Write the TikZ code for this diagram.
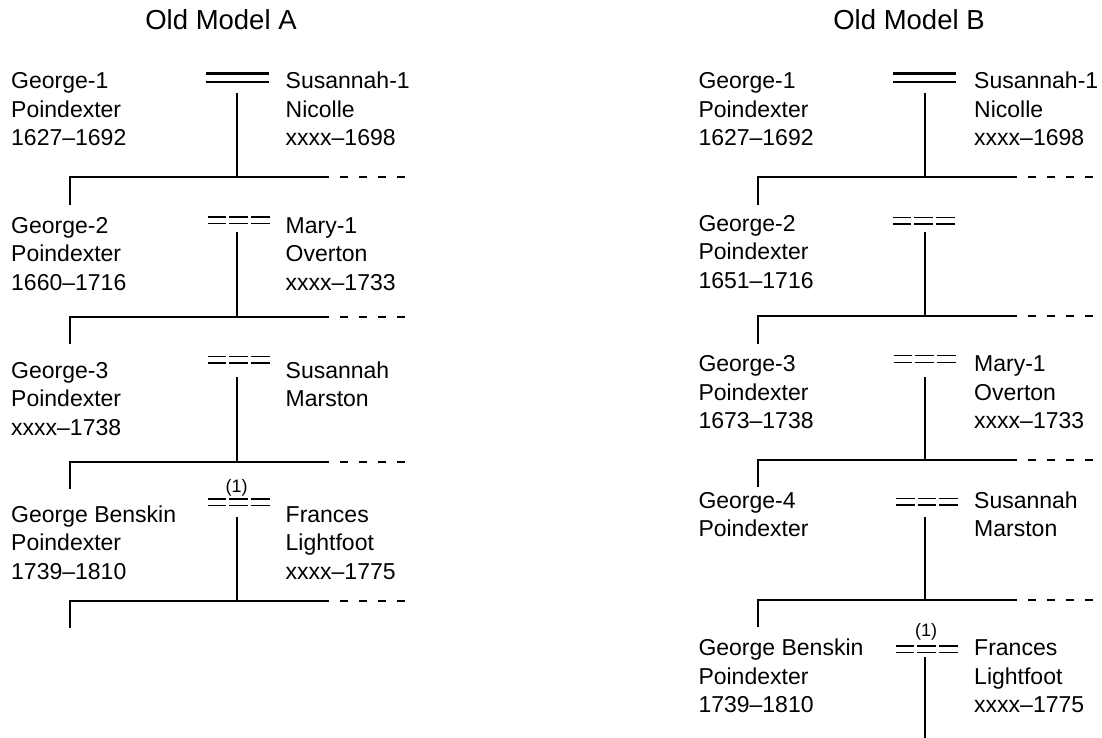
\documentclass[tikz,border=0pt]{standalone}
\usepackage{fontspec}
\setmainfont{Liberation Sans}
\newcommand\plines[1]{\begin{tabular}[t]{@{}l@{}}#1\end{tabular}}
\begin{document}
\begin{tikzpicture}[x=1pt,y=-1pt,
  line/.style={line width=2.4pt},
  dashline/.style={line width=2.4pt, dash pattern=on 8pt off 11pt, dash phase=8pt},
  title/.style={anchor=base, inner sep=0pt, font=\fontsize{27.5}{33}\selectfont},
  person/.style={anchor=base west, inner sep=0pt, font=\fontsize{23}{28.5}\selectfont},
  note/.style={inner sep=0pt, font=\fontsize{18}{21}\selectfont},
  wed/.style={line width=2.2pt},
  weddash/.style={line width=1.3pt},
  tripleeq/.pic={\draw[weddash] (-31,0)--(-12.3,0) (-9.3,0)--(9.3,0) (12.3,0)--(31,0)
                                (-31,6.5)--(-12.3,6.5) (-9.3,6.5)--(9.3,6.5) (12.3,6.5)--(31,6.5);},
  doubleeq/.pic={\draw[wed] (-31.5,0)--(31.5,0) (-31.5,8.5)--(31.5,8.5);}
]
\useasboundingbox (0,0) rectangle (1102,738);

% ---------------- Old Model A ----------------
\node[title] (tA) at (221,30) {Old Model A};

\node[person] (A1h) at (11,89) {\plines{George-1\\Poindexter\\1627–1692}};
\node[person] (A1w) at (285.5,89) {\plines{Susannah-1\\Nicolle\\xxxx–1698}};
\pic at (237.5,73.5) {doubleeq};

\node[person] (A2h) at (11,233) {\plines{George-2\\Poindexter\\1660–1716}};
\node[person] (A2w) at (285.5,233) {\plines{Mary-1\\Overton\\xxxx–1733}};
\pic at (238.5,217) {tripleeq};

\node[person] (A3h) at (11,378) {\plines{George-3\\Poindexter\\xxxx–1738}};
\node[person] (A3w) at (285.5,378) {\plines{Susannah\\Marston}};
\pic at (238.5,356.5) {tripleeq};

\node[person] (A4h) at (11,522) {\plines{George Benskin\\Poindexter\\1739–1810}};
\node[person] (A4w) at (285.5,522) {\plines{Frances\\Lightfoot\\xxxx–1775}};
\pic at (238.5,499) {tripleeq};
\node[note] (A4n) at (236.7,487.5) {(1)};

\foreach \i/\m/\j/\c in {1/93/177/205, 2/232/317/344, 3/377/462/489, 4/517/601/628}{
  \coordinate (A\i m) at (237,\m);
  \coordinate (A\i j) at (237,\j);
  \coordinate (A\i l) at (70,\j);
  \coordinate (A\i r) at (329,\j);
  \coordinate (A\i d) at (405,\j);
  \coordinate (A\i c) at (70,\c);
  \draw[line] (A\i m) -- (A\i j);
  \draw[line] (A\i c) -- (A\i l) -- (A\i r);
  \draw[dashline] (A\i r) -- (A\i d);
}

% ---------------- Old Model B ----------------
\node[title] (tB) at (909,30) {Old Model B};

\node[person] (B1h) at (698.3,89) {\plines{George-1\\Poindexter\\1627–1692}};
\node[person] (B1w) at (974,89) {\plines{Susannah-1\\Nicolle\\xxxx–1698}};
\pic at (924.5,73.5) {doubleeq};

\node[person] (B2h) at (698.3,231) {\plines{George-2\\Poindexter\\1651–1716}};
\pic at (923.5,217.5) {tripleeq};

\node[person] (B3h) at (698.3,371.5) {\plines{George-3\\Poindexter\\1673–1738}};
\node[person] (B3w) at (974,371.5) {\plines{Mary-1\\Overton\\xxxx–1733}};
\pic at (924.5,355.7) {tripleeq};

\node[person] (B4h) at (698.3,508) {\plines{George-4\\Poindexter}};
\node[person] (B4w) at (974,508) {\plines{Susannah\\Marston}};
\pic at (927,498.5) {tripleeq};

\node[person] (B5h) at (698.3,655.5) {\plines{George Benskin\\Poindexter\\1739–1810}};
\node[person] (B5w) at (974,655.5) {\plines{Frances\\Lightfoot\\xxxx–1775}};
\pic at (926.5,646) {tripleeq};
\node[note] (B5n) at (926,631.7) {(1)};

\foreach \i/\m/\j/\c in {1/93/177/205, 2/232/316/344, 3/377/460/487, 4/517/600/627}{
  \coordinate (B\i m) at (925,\m);
  \coordinate (B\i j) at (925,\j);
  \coordinate (B\i l) at (758,\j);
  \coordinate (B\i r) at (1017,\j);
  \coordinate (B\i d) at (1093,\j);
  \coordinate (B\i c) at (758,\c);
  \draw[line] (B\i m) -- (B\i j);
  \draw[line] (B\i c) -- (B\i l) -- (B\i r);
  \draw[dashline] (B\i r) -- (B\i d);
}
\coordinate (B5m) at (925,657);
\coordinate (B5e) at (925,738);
\draw[line] (B5m) -- (B5e);
\end{tikzpicture}
\end{document}
